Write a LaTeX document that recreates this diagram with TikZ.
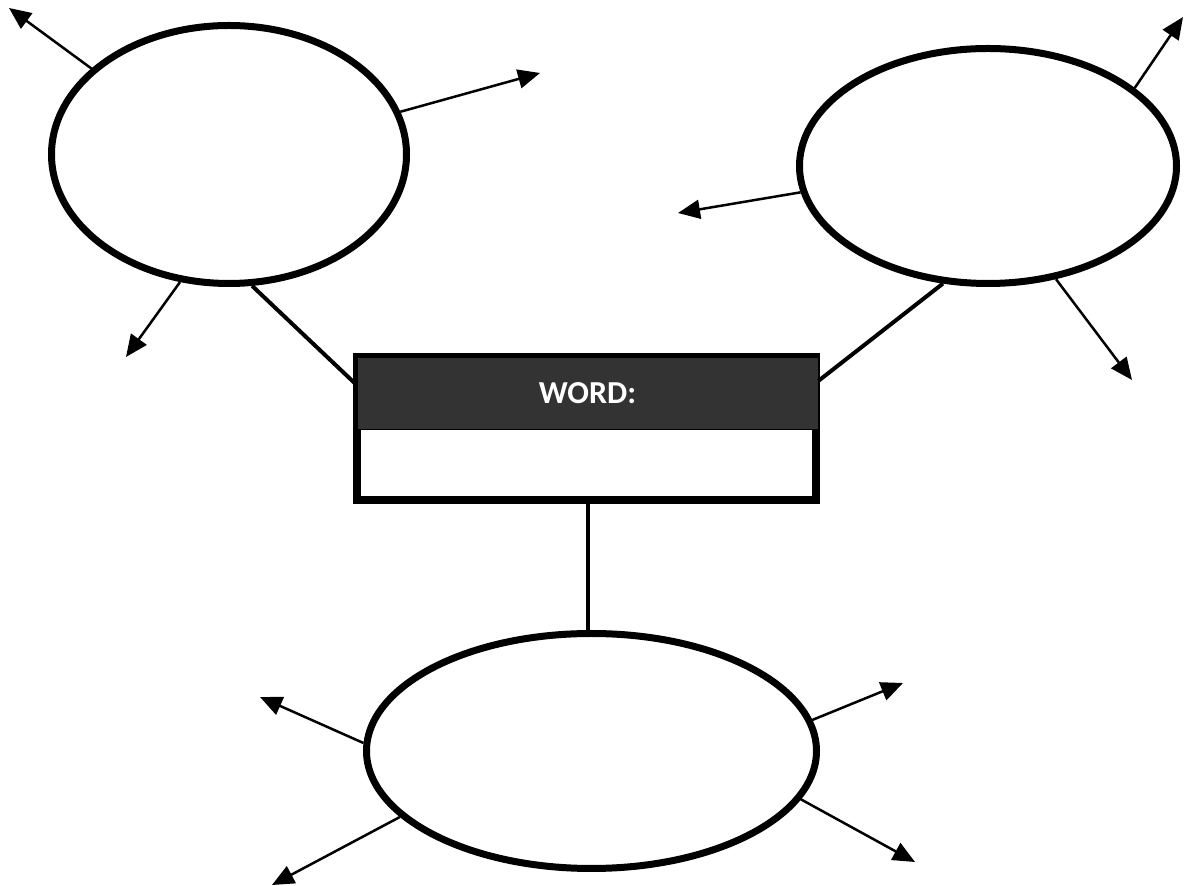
\documentclass[tikz,border=0pt]{standalone}
\usepackage{fontspec}
\setmainfont{Carlito}
\usetikzlibrary{shapes.geometric,arrows.meta}
\definecolor{hdrgray}{HTML}{333333}
\begin{document}
\begin{tikzpicture}[x=1pt,y=1pt,
  bubble/.style={ellipse,draw=black,line width=7pt,inner sep=0pt,fill=white},
  link/.style={line width=4pt},
  arr/.style={line width=2.5pt,-{Triangle[length=22pt,width=19pt]}}]
\useasboundingbox (0,0) rectangle (1187,886);
\node[bubble,minimum width=355pt,minimum height=258pt] (tl) at (229,731.5) {};
\node[bubble,minimum width=377pt,minimum height=235pt] (tr) at (988,720) {};
\node[bubble,minimum width=450pt,minimum height=235pt] (bt) at (591.5,135) {};
% box
\node[rectangle,fill=black,inner sep=0pt,minimum width=467pt,minimum height=151pt] (box) at (586.5,457.5) {};
\node[rectangle,fill=hdrgray,draw=black,line width=0.8pt,inner sep=0pt,minimum width=461pt,minimum height=72pt,text=white,font=\bfseries\fontsize{32}{38}\selectfont] (hdr) at (587.5,493) {WORD:};
\node[rectangle,fill=white,inner sep=0pt,minimum width=451pt,minimum height=66pt] (blank) at (586.5,423) {};
% links
\draw[link] (tl.280.6) -- (hdr.178);
\draw[link] (tr.249) -- (hdr.3);
\draw[link] ([xshift=1.5pt]box.south) -- ([xshift=1.5pt]box.south |- bt.north);
% arrow tips
\coordinate (a1) at (9,878);
\coordinate (a2) at (540,813);
\coordinate (a3) at (126,529);
\coordinate (b1) at (1183,869);
\coordinate (b2) at (678,673);
\coordinate (b3) at (1132,506);
\coordinate (c1) at (260,189);
\coordinate (c2) at (903,203);
\coordinate (c3) at (272,1);
\coordinate (c4) at (915,24);
\draw[arr] (tl.148.5) -- (a1);
\draw[arr] (tl.14.4) -- (a2);
\draw[arr] (tl.249) -- (a3);
\draw[arr] (tr.28.6) -- (b1);
\draw[arr] (tr.188) -- (b2);
\draw[arr] (tr.301.5) -- (b3);
\draw[arr] (bt.178.5) -- (c1);
\draw[arr] (bt.8.2) -- (c2);
\draw[arr] (bt.199.2) -- (c3);
\draw[arr] (bt.347.2) -- (c4);
\end{tikzpicture}
\end{document}
